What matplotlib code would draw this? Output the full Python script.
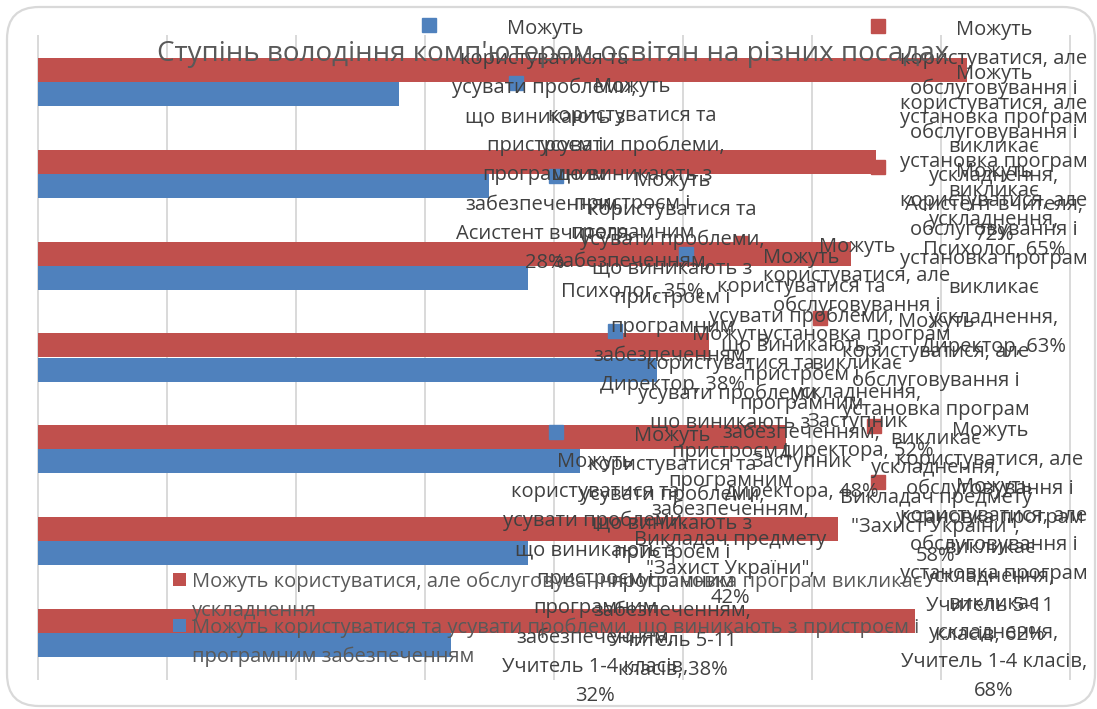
import textwrap
import matplotlib
matplotlib.use("Agg")
import matplotlib.pyplot as plt
from matplotlib.patches import FancyBboxPatch, Rectangle
from matplotlib.transforms import offset_copy

# ---- data -------------------------------------------------------------
positions = [
    "Асистент вчителя",
    "Психолог",
    "Директор",
    "Заступник директора",
    "Викладач предмету \"Захист України\"",
    "Учитель 5-11 класів",
    "Учитель 1-4 класів",
]
can_fix = [28, 35, 38, 48, 42, 38, 32]      # можуть усувати проблеми самостійно, %
need_help = [72, 65, 63, 52, 58, 62, 68]    # обслуговування викликає ускладнення, %

series_fix = ("Можуть користуватися та усувати проблеми, що виникають "
              "з пристроєм і програмним забезпеченням")
series_help = ("Можуть користуватися, але обслуговування і установка "
               "програм викликає ускладнення")
title = "Ступінь володіння комп'ютером освітян на різних посадах"
value_ticks = [0, 10, 20, 30, 40, 50, 60, 70, 80]

# ---- layout of the data labels (value axis %, category axis) ----------
fix_label_pos = [(39.3, -0.60), (46.1, 0.03), (49.2, 1.05), (59.2, 1.89),
                 (53.7, 2.73), (49.2, 3.83), (43.2, 4.115)]
help_label_pos = [(74.1, -0.59), (74.1, -0.11), (74.1, 0.95), (63.5, 1.77),
                  (69.6, 2.59), (73.8, 3.77), (74.1, 4.38)]

# ---- style ------------------------------------------------------------
BLUE = "#4F81BD"
RED = "#C0504D"
GRID = "#D9D9D9"
LABEL_C = "#404040"
TEXT_C = "#595959"
FONT = ["Open Sans", "DejaVu Sans"]
LABEL_SIZE = 14.5
LINE_STEP = 29.2      # px between wrapped label lines
W, H = 1097, 709

plt.rcParams["font.family"] = FONT

fig = plt.figure(figsize=(W / 100, H / 100), dpi=100)

# rounded chart-area frame
frame = FancyBboxPatch((0.07, 0.03), 10.88, 6.99,
                       boxstyle="round,pad=0,rounding_size=0.32",
                       transform=fig.dpi_scale_trans,
                       facecolor="white", edgecolor=GRID, linewidth=1.6,
                       zorder=-5)
fig.patches.append(frame)

left, right, top, bottom = 37.5, 1070, 36, 679
ax = fig.add_axes([left / W, 1 - bottom / H, (right - left) / W, (bottom - top) / H])
ax.set_facecolor("none")
ax.set_xlim(value_ticks[0], value_ticks[-1])
ax.set_ylim(len(positions) - 0.5, -0.5)
ax.set_xticks(value_ticks)
ax.set_yticks([])
ax.tick_params(axis="x", length=0, labelbottom=False)
for s in ax.spines.values():
    s.set_visible(False)
ax.set_axisbelow(True)
ax.xaxis.grid(True, color=GRID, linewidth=1.4)
for gl in ax.get_xgridlines():
    gl.set_clip_on(False)

# bars
bar_h = 0.262
idx = list(range(len(positions)))
ax.barh([i - bar_h / 2 for i in idx], need_help, height=bar_h, color=RED, zorder=2)
ax.barh([i + bar_h / 2 for i in idx], can_fix, height=bar_h, color=BLUE, zorder=2)

# data labels: legend key + series name + category + value
def draw_label(series, cat, val, pos, color):
    text = f"{series}, {cat}, {val}%"
    lines = textwrap.wrap(text, 19)
    x, y = pos
    key_tr = offset_copy(ax.transData, fig=fig, x=-116, y=2, units="dots")
    ax.plot([x], [y], marker="s", ms=9.6, color=color, linestyle="none",
            transform=key_tr, clip_on=False, zorder=3)
    for k, line in enumerate(lines):
        tr = offset_copy(ax.transData, fig=fig, x=0, y=-k * LINE_STEP, units="dots")
        ax.text(x, y, line, transform=tr, ha="center", va="center_baseline",
                fontsize=LABEL_SIZE, color=LABEL_C, clip_on=False, zorder=5)

for cat, val, pos in zip(positions, can_fix, fix_label_pos):
    draw_label(series_fix, cat, val, pos, BLUE)
for cat, val, pos in zip(positions, need_help, help_label_pos):
    draw_label(series_help, cat, val, pos, RED)

# title
fig.text(553 / W, 1 - 50 / H, title, ha="center", va="center_baseline",
         fontsize=20, color=TEXT_C, zorder=4)

# legend (bottom left, over the plot)
legend_items = [(series_help, RED, 579), (series_fix, BLUE, 625)]
for name, color, y0 in legend_items:
    fig.patches.append(Rectangle(((179 - 6.5) / W, 1 - (y0 + 6.5) / H), 13 / W, 13 / H,
                                 transform=fig.transFigure, facecolor=color,
                                 edgecolor="none", zorder=4))
    for k, line in enumerate(textwrap.wrap(name, 69)):
        fig.text(192 / W, 1 - (y0 + k * 29.5) / H, line, ha="left",
                 va="center_baseline", fontsize=LABEL_SIZE, color=TEXT_C, zorder=4)

fig.savefig("out.png", dpi=100)
